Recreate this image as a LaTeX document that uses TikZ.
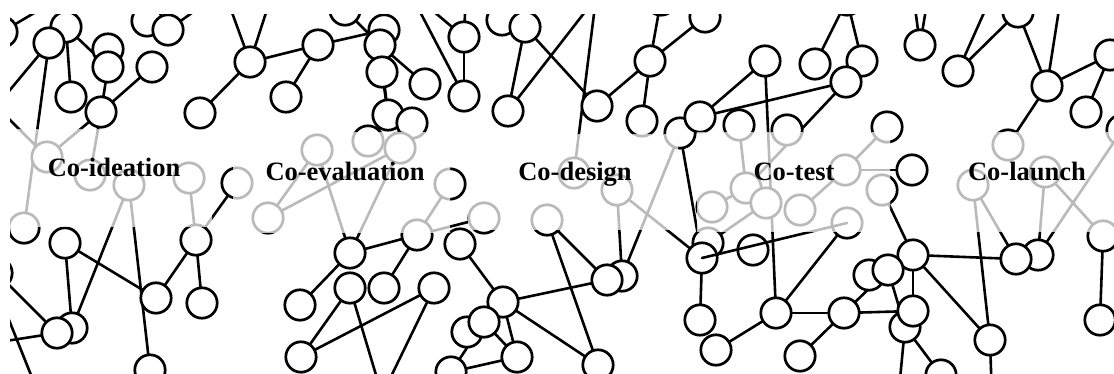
\documentclass[tikz,border=0pt]{standalone}
\usepackage{fontspec}
\setmainfont{Liberation Serif}
\begin{document}
\begin{tikzpicture}[x=1pt,y=-1pt,
  hub/.style={circle,draw,fill=white,line width=2.7pt,minimum size=30.4pt,inner sep=0pt},
  link/.style={line width=2.6pt,line cap=round},
  tag/.style={font=\fontsize{26.5}{30}\selectfont\bfseries,anchor=base,inner sep=0pt}]
\useasboundingbox (0,0) rectangle (1114,374);
% ---------- positions of the network hubs ----------
\coordinate (A1) at (2,32);   \coordinate (A2) at (66,27);  \coordinate (A3) at (49,43);
\coordinate (A4) at (108,49); \coordinate (A5) at (108,67); \coordinate (A6) at (152,67);
\coordinate (A7) at (71,97);  \coordinate (A8) at (101,112);\coordinate (A9) at (147,21);
\coordinate (A10) at (168,30);\coordinate (A11) at (250,62);\coordinate (A12) at (200,113);
\coordinate (B1a) at (47,157);\coordinate (B1c) at (90,175);\coordinate (B1d) at (129,185);
\coordinate (B1e) at (189,178);\coordinate (B1f) at (237,183);\coordinate (B2a) at (268,218);
\coordinate (L1) at (24,228); \coordinate (L2) at (65,243); \coordinate (L3) at (156,298);
\coordinate (L5) at (196,240);\coordinate (L6) at (202,303);\coordinate (L7) at (57,333);
\coordinate (L8) at (72,328); \coordinate (L9) at (150,370);\coordinate (L10) at (-3,273);
\coordinate (C0) at (345,10); \coordinate (C1) at (318,45); \coordinate (C2) at (286,97);
\coordinate (C3) at (384,30); \coordinate (C4) at (380,45); \coordinate (C5) at (382,72);
\coordinate (C6) at (388,115);\coordinate (C7) at (412,123);\coordinate (C8) at (425,84);
\coordinate (C9) at (464,37); \coordinate (C10) at (464,96);\coordinate (C11) at (502,20);
\coordinate (C12) at (525,27);\coordinate (C13) at (508,111);\coordinate (C14) at (368,141);
\coordinate (C15) at (400,148);\coordinate (C16) at (317,150);\coordinate (C17) at (450,184);
\coordinate (C18) at (417,235);\coordinate (C19) at (484,218);\coordinate (C20) at (460,244);
\coordinate (C21) at (350,253);\coordinate (C22) at (350,288);\coordinate (C23) at (384,288);
\coordinate (C24) at (434,288);\coordinate (C25) at (300,305);\coordinate (C26) at (301,357);
\coordinate (C29) at (503,302);\coordinate (C30) at (484,322);\coordinate (C31) at (467,332);
\coordinate (C32) at (517,357);\coordinate (C33) at (451,372);
\coordinate (D1) at (597,106); \coordinate (D2) at (650,61);  \coordinate (D3) at (661,0);
\coordinate (D4) at (705,17);  \coordinate (D5) at (642,121); \coordinate (D6) at (680,133);
\coordinate (D7) at (700,117); \coordinate (D8) at (765,61);  \coordinate (D9) at (739,125);
\coordinate (D10) at (787,130);\coordinate (D11) at (815,64); \coordinate (D12) at (607,280);
\coordinate (D13) at (598,365);\coordinate (D14) at (547,220);\coordinate (D16) at (622,276);
\coordinate (D17) at (617,190);\coordinate (D18) at (702,258);\coordinate (D19) at (708,243);
\coordinate (D20) at (700,320);\coordinate (D21) at (716,350);\coordinate (D22) at (800,356);
\coordinate (D23) at (753,250);\coordinate (D24) at (712,207);\coordinate (D25) at (746,188);
\coordinate (D26) at (766,203);\coordinate (D27) at (800,210);\coordinate (D28) at (574,173);
\coordinate (F1) at (776,313);
\coordinate (E1) at (847,0);   \coordinate (E2) at (862,61);  \coordinate (E3) at (846,82);
\coordinate (E4) at (920,45);  \coordinate (E5) at (958,71);  \coordinate (E6) at (1018,12);
\coordinate (E7) at (1047,86); \coordinate (E8) at (1110,55); \coordinate (E9) at (1086,112);
\coordinate (E10) at (1122,130);\coordinate (E11) at (847,223);\coordinate (E12) at (844,313);
\coordinate (E13) at (845,170);\coordinate (E14) at (887,127);\coordinate (E15) at (912,170);
\coordinate (E16) at (882,190);\coordinate (E17) at (913,255);\coordinate (E18) at (973,185);
\coordinate (E19) at (990,340);\coordinate (E20) at (1016,259);\coordinate (E21) at (1045,172);
\coordinate (E22) at (1038,255);\coordinate (E23) at (1103,236);\coordinate (E24) at (1100,320);
\coordinate (E26) at (869,275);\coordinate (E27) at (888,270);\coordinate (E28) at (913,311);
\coordinate (E29) at (905,327);\coordinate (E30) at (941,375);\coordinate (G1) at (1008,145);
% far ends of links that leave the frame
\coordinate (o1) at (90,-20);  \coordinate (o2) at (-20,126); \coordinate (o3) at (-20,90);
\coordinate (o4) at (-20,345); \coordinate (o5) at (-15,260); \coordinate (o6) at (45,410);
\coordinate (o7) at (222,-15); \coordinate (o8) at (275,-15); \coordinate (o9) at (210,0);
\coordinate (o10) at (406,-15);\coordinate (o11) at (420,0);  \coordinate (o12) at (466,-10);
\coordinate (o13) at (602,-10);\coordinate (o14) at (597,-10);\coordinate (o15) at (912,-15);
\coordinate (o16) at (930,-15);\coordinate (o17) at (991,-3); \coordinate (o18) at (1062,-10);
\coordinate (o19) at (382,395);\coordinate (o20) at (898,400);\coordinate (o21) at (992,400);
% ---------- the whole network in one colour ----------
\newcommand\drawnet[1]{%
 \begin{scope}[draw=#1]
  \foreach \p/\q in {A1/o1,A3/o2,A3/L1,A2/A7,A2/A5,A5/A8,A8/A6,A8/B1a,A8/B1c,
     A11/o7,A11/o8,A11/A12,A11/C1,A10/o9,o3/B1a,B1d/L8,B1d/L9,B1e/L5,L2/L3,L2/L8,
     L3/L5,L5/L6,L5/B1f,L10/L7,o4/L7,o5/o6,C1/C2,C1/C3,C0/C4,C4/C6,C5/C6,C4/C8,
     C9/C10,o10/C10,o11/C9,C9/o12,C12/C13,C13/o13,C12/D1,o14/D28,D1/D2,D2/D3,D2/D4,
     D2/D5,D7/D8,D7/E3,D8/F1,E3/D25,D11/E1,E1/E2,E4/o15,E4/o16,E5/o17,E5/E6,E7/E6,
     E7/o18,E7/E8,E8/E9,E7/G1,E10/E22,C16/B2a,B2a/C15,C16/C21,C15/C21,C17/C18,
     C18/C19,C21/C18,C18/C23,C21/C25,C22/C26,C24/C26,C22/o19,C24/o19,C20/C29,
     C29/D12,C29/D13,C29/C32,C30/C33,C30/C32,C33/C32,D14/D12,D14/D13,D17/D16,
     D6/D16,D17/D18,D6/D18,D18/D20,D21/F1,F1/E12,F1/E11,D22/E12,D9/D25,D24/D25,
     D19/D26,D27/E13,E14/E13,E13/E15,E16/E17,E18/E19,E18/E20,E21/E22,E21/E23,
     E23/E24,E17/E20,E17/E19,E12/E28,E17/E28,E27/E12,E27/E29,E29/o20,E29/E30,E19/o21}
   \draw[link] (\p) -- (\q);
  \foreach \n in {A1,A2,A3,A4,A5,A6,A7,A8,A9,A10,A11,A12,B1a,B1c,B1d,B1e,B1f,B2a,
     L1,L2,L3,L5,L6,L8,L7,L9,L10,C0,C1,C2,C3,C4,C5,C6,C7,C8,C9,C10,C11,C12,C13,
     C14,C15,C16,C17,C18,C19,C20,C21,C22,C23,C24,C25,C26,C29,C31,C30,C32,C33,
     D1,D2,D3,D4,D5,D6,D7,D8,D9,D10,D11,D16,D12,D13,D14,D17,D19,D18,D20,D21,D22,
     D23,D24,D25,D26,D27,D28,F1,E1,E2,E3,E4,E5,E6,E7,E8,E9,E10,E11,E12,E13,E14,
     E16,E15,E17,E18,E19,E22,E20,E21,E23,E24,E26,E27,E29,E28,E30,G1}
   \node[hub,draw=#1] (h\n) at (\n) {};
  \draw[link] (D18) -- (E11);
 \end{scope}}
\begin{scope}
 \clip (10,15) rectangle (1114,374);
 \drawnet{black}
 % faded bands behind the five stage names
 \foreach \xa/\ya/\xb/\yb in {10/130/212/227,233/133/450/233,468/135/678/230,
                               697/133/890/232,935/133/1114/232}{
  \begin{scope}
   \clip (\xa,\ya) rectangle (\xb,\yb);
   \fill[white] (\xa,\ya) rectangle (\xb,\yb);
   \drawnet{black!27}
  \end{scope}}
\end{scope}
% ---------- stage names ----------
\node[tag] (t1) at (114,177) {Co-ideation};
\node[tag] (t2) at (345,181) {Co-evaluation};
\node[tag] (t3) at (575,181) {Co-design};
\node[tag] (t4) at (794,181) {Co-test};
\node[tag] (t5) at (1027,181) {Co-launch};
\end{tikzpicture}
\end{document}
